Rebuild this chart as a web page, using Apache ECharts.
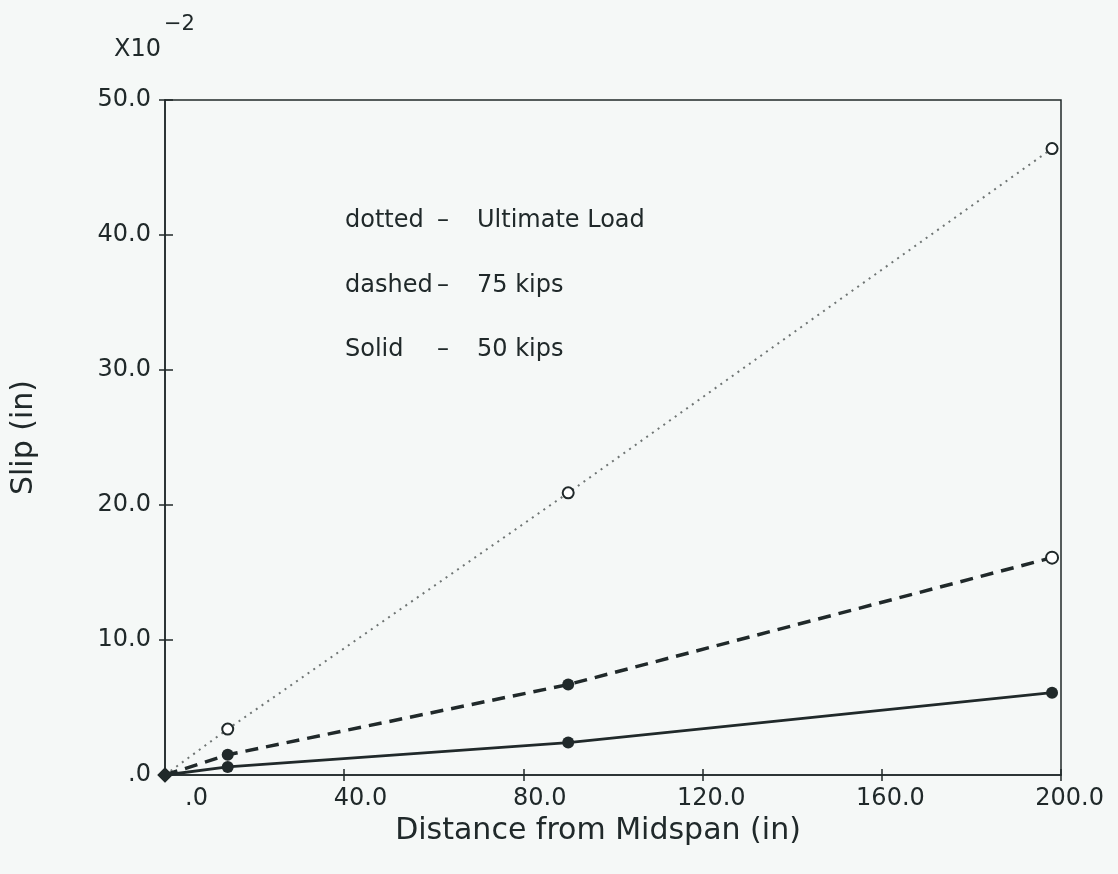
<!DOCTYPE html>
<html>
<head>
<meta charset="utf-8">
<script src="https://cdn.jsdelivr.net/npm/echarts@6/dist/echarts.min.js"></script>
<style>
  html, body { margin: 0; padding: 0; background: #f5f8f7; }
  #chart { width: 1118px; height: 874px; }
</style>
</head>
<body>
<div id="chart"></div>
<script>
// Slip along the beam, values in units of 1e-2 in
const distance = [0, 14, 90, 198];
const slipUltimate = [0, 3.4, 20.9, 46.4];
const slip75 = [0, 1.5, 6.7, 16.1];
const slip50 = [0, 0.6, 2.4, 6.1];

const ultimateSymbols = ['diamond', 'emptyCircle', 'emptyCircle', 'emptyCircle'];
const kips75Symbols = ['diamond', 'circle', 'circle', 'emptyCircle'];
const kips50Symbols = ['diamond', 'circle', 'circle', 'circle'];

const xTicks = [0, 40, 80, 120, 160, 200];
const xTickLabels = ['.0', '40.0', '80.0', '120.0', '160.0', '200.0'];
const yTicks = [0, 10, 20, 30, 40, 50];
const yTickLabels = ['.0', '10.0', '20.0', '30.0', '40.0', '50.0'];

// key: line style name, separator, load case
const noteStyles = ['dotted', 'dashed', 'Solid'];
const noteLoads = ['Ultimate Load', '75 kips', '50 kips'];

const ink = '#20292a';
const font = 'DejaVu Sans';

function pts(xs, ys, syms) {
  return xs.map((x, i) => ({
    value: [x, ys[i]],
    symbol: syms[i],
    symbolSize: syms[i] === 'diamond' ? 15 : undefined
  }));
}
function labelFor(ticks, labels) {
  return v => {
    const i = ticks.indexOf(Math.round(v * 1000) / 1000);
    return i < 0 ? '' : labels[i];
  };
}

const chart = echarts.init(document.getElementById('chart'), null, { renderer: 'canvas' });

const baseX = { type: 'value', min: 0, max: 200, interval: 40 };
const baseY = { type: 'value', min: 0, max: 50, interval: 10 };

const noteText = (t, left, top) => ({
  type: 'text', left: left, top: top,
  style: { text: t, fontFamily: font, fontSize: 24, fill: ink }
});

const notes = [];
noteStyles.forEach((s, i) => {
  const top = 209 + i * 64.5;
  notes.push(noteText(s, 345, top));
  notes.push(noteText('\u2013', 437, top));
  notes.push(noteText(noteLoads[i], 477, top));
});

chart.setOption({
  backgroundColor: '#f5f8f7',
  animation: false,
  grid: { left: 165, right: 57, top: 100, bottom: 99, show: true, borderColor: ink, borderWidth: 1.5, backgroundColor: 'transparent' },
  xAxis: [
    Object.assign({}, baseX, {
      name: 'Distance from Midspan (in)',
      nameLocation: 'middle',
      nameGap: 38,
      nameTextStyle: { fontFamily: font, fontSize: 30, color: ink, padding: [0, 30, 0, 0] },
      axisLine: { show: true, lineStyle: { color: ink, width: 1.5 } },
      axisTick: { show: true, inside: false, length: 6, lineStyle: { color: ink, width: 1.5 } },
      splitLine: { show: false },
      axisLabel: {
        margin: 12,
        align: 'center',
        formatter: v => '{t|' + labelFor(xTicks, xTickLabels)(v) + '}',
        rich: { t: { width: 86, align: 'right', fontFamily: font, fontSize: 24, color: ink } }
      }
    }),
    Object.assign({}, baseX, {
      position: 'bottom',
      axisLine: { show: false, onZero: false },
      axisTick: { show: true, inside: true, length: 6, lineStyle: { color: ink, width: 1.5 } },
      axisLabel: { show: false },
      splitLine: { show: false }
    })
  ],
  yAxis: [
    Object.assign({}, baseY, {
      name: 'Slip (in)',
      nameLocation: 'middle',
      nameGap: 126,
      nameRotate: 90,
      nameTextStyle: { fontFamily: font, fontSize: 30, color: ink },
      axisLine: { show: true, lineStyle: { color: ink, width: 1.5 } },
      axisTick: { show: true, inside: false, length: 6, lineStyle: { color: ink, width: 1.5 } },
      splitLine: { show: false },
      axisLabel: {
        margin: 14,
        formatter: labelFor(yTicks, yTickLabels),
        fontFamily: font, fontSize: 24, color: ink
      }
    }),
    Object.assign({}, baseY, {
      position: 'left',
      axisLine: { show: false, onZero: false },
      axisTick: { show: true, inside: true, length: 8, lineStyle: { color: ink, width: 1.5 } },
      axisLabel: { show: false },
      splitLine: { show: false }
    })
  ],
  graphic: [
    {
      type: 'text', left: 114, top: 14,
      style: {
        text: '{b|X10}{s|\u22122}',
        rich: {
          b: { fontFamily: font, fontSize: 24, fill: ink, padding: [28, 0, 0, 0] },
          s: { fontFamily: font, fontSize: 21, fill: ink, padding: [0, 0, 22, 3] }
        }
      }
    },
    ...notes
  ],
  series: [
    {
      name: 'Ultimate Load', type: 'line',
      data: pts(distance, slipUltimate, ultimateSymbols),
      symbolSize: 11,
      lineStyle: { color: '#6f7574', width: 2, type: [2, 5] },
      itemStyle: { color: ink, borderWidth: 3 },
      z: 3
    },
    {
      name: '75 kips', type: 'line',
      data: pts(distance, slip75, kips75Symbols),
      symbolSize: 12,
      lineStyle: { color: ink, width: 3.5, type: [13, 8] },
      itemStyle: { color: ink, borderWidth: 3 },
      z: 4
    },
    {
      name: '50 kips', type: 'line',
      data: pts(distance, slip50, kips50Symbols),
      symbolSize: 12,
      lineStyle: { color: ink, width: 2.8, type: 'solid' },
      itemStyle: { color: ink, borderWidth: 3 },
      z: 5
    }
  ]
});
</script>
</body>
</html>
